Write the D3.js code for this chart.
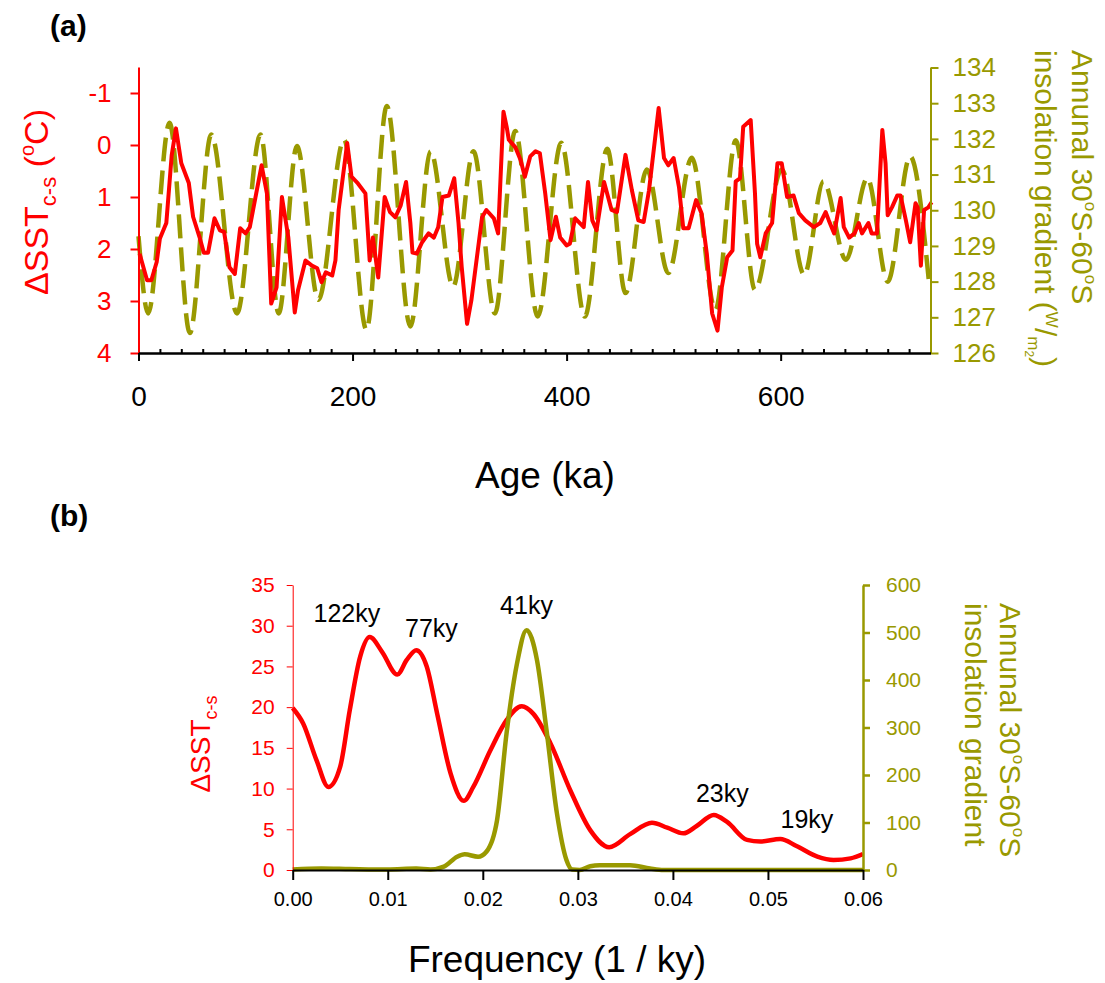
<!DOCTYPE html>
<html>
<head>
<meta charset="utf-8">
<script src="https://cdn.jsdelivr.net/npm/d3@7"></script>
<style>
body { margin: 0; background: #fff; }
</style>
</head>
<body>
<svg id="chart" width="1105" height="983"></svg>
<script>
// ---- data ----
// panel (a): SST gradient record (deg C, axis reversed)
var sstAge = [1,8,12,17,20,26,31,35,40,47,51,57,61,65,71,76,80,85,90,95,
  100,104,110,115,120,124,129,134,140,146,149,156,162,167,171,175,181,184,187,195,
  199,205,212,216,219,224,230,235,240,245,250,254,256,260,265,271,276,280,284,290,
  295,299,302,307,311,321,325,332,336,341,344,346,352,357,361,366,371,375,380,385,
  390,394,400,403,408,416,420,424,428,435,442,447,455,461,467,472,477,486,491,495,
  500,505,509,514,521,526,531,536,541,545,550,555,558,562,565,572,576,578,581,586,
  592,597,601,606,612,617,623,631,637,642,645,650,656,659,664,669,673,676,682,685,
  690,695,698,700,704,709,712,717,721,726,728,731,734,738,741];
var sst = [2.09,2.6,2.6,2.25,1.8,1.5,0.2,-0.32,0.35,0.73,
  1.38,1.77,2.07,2.07,1.41,1.64,1.67,2.35,2.48,1.6,
  1.7,1.58,0.93,0.39,0.93,3.05,2.74,1.0,1.78,3.22,
  2.8,2.22,2.32,2.37,2.64,2.45,2.51,2.22,1.25,-0.04,
  0.61,0.74,0.93,2.22,1.78,2.55,1.0,1.29,1.39,1.16,
  0.71,1.5,2.07,2.09,1.87,1.7,1.78,1.58,1.0,0.97,
  0.64,1.5,2.35,3.44,2.99,1.39,1.25,1.41,1.7,-0.64,
  -0.35,-0.1,0.04,0.29,0.61,0.22,0.12,0.16,0.93,1.83,
  1.38,1.78,1.93,1.9,1.41,1.58,0.71,1.45,1.64,0.71,
  1.25,1.29,0.19,0.87,1.45,1.48,0.87,-0.71,0.25,0.39,
  0.25,0.81,1.6,1.6,1.06,1.31,2.09,3.24,3.57,2.74,
  2.16,2.03,0.7,0.64,-0.35,-0.48,0.93,1.9,2.16,1.7,
  1.5,0.35,0.35,1.0,0.97,1.31,1.45,1.58,1.5,1.29,
  1.45,1.7,1.02,1.58,1.78,1.7,1.5,1.7,1.5,1.7,
  1.7,-0.29,0.35,1.35,1.2,0.97,0.97,1.45,1.87,1.12,
  1.2,2.32,1.25,1.2,1.1];

// panel (a): annual 30S-60S insolation gradient (W/m2), turning points
var insAge = [0,9,29,48,68,92,114,131,148,168,192,213,232,254,273,294,313,333,352,373,
  395,417,438,455,475,495,517,539,558,576,601,622,640,661,681,700,721,739];
var ins = [129.27,127.11,132.45,126.56,132.12,127.11,132.12,127.11,131.8,127.49,
  131.98,126.65,132.92,126.74,131.65,127.86,131.65,127.11,132.22,127.02,
  131.89,127.02,131.72,127.68,131.14,128.24,131.47,127.21,131.96,127.77,
  131.14,128.19,130.81,128.61,130.9,128.0,131.51,127.86];

// panel (b): spectra
var fSST = [0,0.0011,0.0025,0.00375,0.005,0.006,0.0071,0.0081,0.0094,0.011,
  0.012,0.013,0.0141,0.0152,0.0166,0.018,0.019,0.0208,0.0225,0.0241,
  0.0253,0.0271,0.0292,0.0313,0.0333,0.0355,0.0378,0.0394,0.0411,0.0425,
  0.0443,0.0457,0.0478,0.0492,0.0513,0.053,0.0552,0.0569,0.0587,0.06];
var pSST = [19.9,18.0,13.5,10.2,12.7,19.6,26.2,28.6,26.8,24.0,
  25.8,27.0,25.0,19.2,11.9,8.5,10.2,14.7,18.4,20.1,
  19.2,15.6,9.8,4.9,2.8,4.4,5.8,5.2,4.5,5.4,
  6.75,5.9,3.7,3.5,3.8,2.95,1.64,1.23,1.43,1.96];
var fIns = [0,0.003,0.006,0.01,0.013,0.0145,0.0159,0.0173,0.0181,0.0195,
  0.0204,0.0215,0.0225,0.0236,0.0246,0.0257,0.0267,0.0278,0.0288,0.0294,
  0.0302,0.0313,0.0323,0.0355,0.0376,0.039,0.06];
var pIns = [1,3,2,1,3,1,7,28,33,28,39,105,288,435,505,442,295,119,21,1,0,8,10,10,3,0,0];

var peakLabels = ["122ky", "77ky", "41ky", "23ky", "19ky"];
var peakFreq = [0.0057, 0.0146, 0.0246, 0.0452, 0.0541];
var peakPow = [30.4, 28.6, 31.5, 8.4, 5.1];

var sstTicks = [-1, 0, 1, 2, 3, 4];
var insTicks = [126, 127, 128, 129, 130, 131, 132, 133, 134];
var ageTicks = [0, 200, 400, 600];
var freqTicks = [0, 0.01, 0.02, 0.03, 0.04, 0.05, 0.06];
var powTicks = [0, 5, 10, 15, 20, 25, 30, 35];
var pow2Ticks = [0, 100, 200, 300, 400, 500, 600];

var red = "#ff0000", olive = "#999900";
var font = "'Liberation Sans', Arial, sans-serif";
var svg = d3.select("#chart").attr("font-family", font);
svg.append("rect").attr("width", 1105).attr("height", 983).attr("fill", "#fff");

function styleAxis(g, color, width, size) {
    g.attr("font-size", size).attr("font-family", font);
    g.select(".domain").attr("stroke", color).attr("stroke-width", width);
    g.selectAll(".tick line").attr("stroke", color).attr("stroke-width", width);
    g.selectAll(".tick text").attr("fill", color);
}

//panel a
var xA = d3.scaleLinear().domain([0, 740]).range([138.5, 930.5]);
var yA = d3.scaleLinear().domain([-1.5, 4]).range([67, 353]);
var yA2 = d3.scaleLinear().domain([126, 134]).range([353, 67.5]);

svg.append("path")
    .attr("d", d3.line().x(function(d, i) { return xA(insAge[i]); }).y(function(d) { return yA2(d); })
        .curve(d3.curveMonotoneX)(ins))
    .attr("fill", "none").attr("stroke", olive).attr("stroke-width", 4.5)
    .attr("stroke-dasharray", "24,9");
svg.append("path")
    .attr("d", d3.line().x(function(d, i) { return xA(sstAge[i]); }).y(function(d) { return yA(d); })(sst))
    .attr("fill", "none").attr("stroke", red).attr("stroke-width", 4)
    .attr("stroke-linejoin", "round");

var gA = svg.append("g").attr("transform", "translate(138.5,0)")
    .call(d3.axisLeft(yA).tickValues(sstTicks).tickSize(8).tickSizeOuter(0).tickPadding(19)
        .tickFormat(function(d) { return String(d); }));
styleAxis(gA, red, 2, 26);

var gA2 = svg.append("g").attr("transform", "translate(930.5,0)")
    .call(d3.axisRight(yA2).tickValues(insTicks).tickSize(8).tickSizeOuter(0).tickPadding(14));
styleAxis(gA2, olive, 2, 26);

var minorAge = d3.range(20, 740, 20).filter(function(d) { return d % 200 !== 0; });
var gAm = svg.append("g").attr("transform", "translate(0,353)")
    .call(d3.axisBottom(xA).tickValues(minorAge).tickSize(-4).tickSizeOuter(0).tickFormat(""));
styleAxis(gAm, "#000", 2, 10);
var gAx = svg.append("g").attr("transform", "translate(0,353)")
    .call(d3.axisBottom(xA).tickValues(ageTicks).tickSize(8).tickSizeOuter(0).tickPadding(25));
styleAxis(gAx, "#000", 2, 28);

svg.append("text").attr("x", 545).attr("y", 488).attr("text-anchor", "middle")
    .attr("font-size", 37).text("Age (ka)");

var tl = svg.append("text").attr("transform", "translate(48,202) rotate(-90)")
    .attr("text-anchor", "middle").attr("font-size", 34).attr("fill", red);
tl.append("tspan").text("\u0394SST");
tl.append("tspan").attr("font-size", 22).attr("dy", 8).text("c-s");
tl.append("tspan").attr("dy", -8).text(" (");
tl.append("tspan").attr("font-size", 20).attr("dy", -14).text("o");
tl.append("tspan").attr("dy", 14).text("C)");

function rightTitle(x1, x2, y0, line2Units) {
    var t1 = svg.append("text").attr("transform", "translate(" + x1 + "," + y0 + ") rotate(90)")
        .attr("font-size", 30).attr("fill", olive);
    t1.append("tspan").text("Annunal 30");
    t1.append("tspan").attr("font-size", 17).attr("dy", -13).text("o");
    t1.append("tspan").attr("dy", 13).text("S-60");
    t1.append("tspan").attr("font-size", 17).attr("dy", -13).text("o");
    t1.append("tspan").attr("dy", 13).text("S");
    var t2 = svg.append("text").attr("transform", "translate(" + x2 + "," + y0 + ") rotate(90)")
        .attr("font-size", 30).attr("fill", olive);
    t2.append("tspan").text("insolation gradient");
    if (line2Units) {
        t2.append("tspan").text(" (");
        t2.append("tspan").attr("font-size", 17).attr("dy", -11).text("W");
        t2.append("tspan").attr("dy", 11).text("/");
        t2.append("tspan").attr("font-size", 17).attr("dy", 7).text("m");
        t2.append("tspan").attr("font-size", 12).attr("dy", 3).text("2");
        t2.append("tspan").attr("dy", -10).text(")");
    }
}
rightTitle(1072, 1035, 50, true);

svg.append("text").attr("x", 50).attr("y", 36).attr("font-size", 30).attr("font-weight", "bold").text("(a)");
svg.append("text").attr("x", 50).attr("y", 526).attr("font-size", 30).attr("font-weight", "bold").text("(b)");

//panel b
var xB = d3.scaleLinear().domain([0, 0.06]).range([292.7, 863]);
var yB = d3.scaleLinear().domain([0, 35]).range([870, 585]);
var yB2 = d3.scaleLinear().domain([0, 600]).range([870, 585]);

svg.append("path")
    .attr("d", d3.line().x(function(d, i) { return xB(fSST[i]); }).y(function(d) { return yB(d); })
        .curve(d3.curveMonotoneX)(pSST))
    .attr("fill", "none").attr("stroke", red).attr("stroke-width", 4.5);
svg.append("path")
    .attr("d", d3.line().x(function(d, i) { return xB(fIns[i]); }).y(function(d) { return yB2(d); })
        .curve(d3.curveMonotoneX)(pIns))
    .attr("fill", "none").attr("stroke", olive).attr("stroke-width", 4.5);

var gB = svg.append("g").attr("transform", "translate(292.7,0)")
    .call(d3.axisLeft(yB).tickValues(powTicks).tickSize(6).tickSizeOuter(0).tickPadding(12));
styleAxis(gB, red, 1, 21);
var gB2 = svg.append("g").attr("transform", "translate(863,0)")
    .call(d3.axisRight(yB2).tickValues(pow2Ticks).tickSize(7).tickSizeOuter(0).tickPadding(16));
styleAxis(gB2, olive, 2.5, 21);
var gBx = svg.append("g").attr("transform", "translate(0,870)")
    .call(d3.axisBottom(xB).tickValues(freqTicks).tickSize(10).tickSizeOuter(0).tickPadding(12)
        .tickFormat(d3.format(".2f")));
styleAxis(gBx, "#000", 2, 20);

svg.selectAll(".peak").data(peakLabels).enter().append("text")
    .attr("class", "peak")
    .attr("x", function(d, i) { return xB(peakFreq[i]); })
    .attr("y", function(d, i) { return yB(peakPow[i]); })
    .attr("text-anchor", "middle").attr("font-size", 25).attr("fill", "#000")
    .text(function(d) { return d; });

svg.append("text").attr("x", 557).attr("y", 972).attr("text-anchor", "middle")
    .attr("font-size", 37).text("Frequency (1 / ky)");

var tb = svg.append("text").attr("transform", "translate(210,744) rotate(-90)")
    .attr("text-anchor", "middle").attr("font-size", 28).attr("fill", red);
tb.append("tspan").text("\u0394SST");
tb.append("tspan").attr("font-size", 18).attr("dy", 7).text("c-s");

rightTitle(1000, 965, 603, false);
</script>
</body>
</html>
